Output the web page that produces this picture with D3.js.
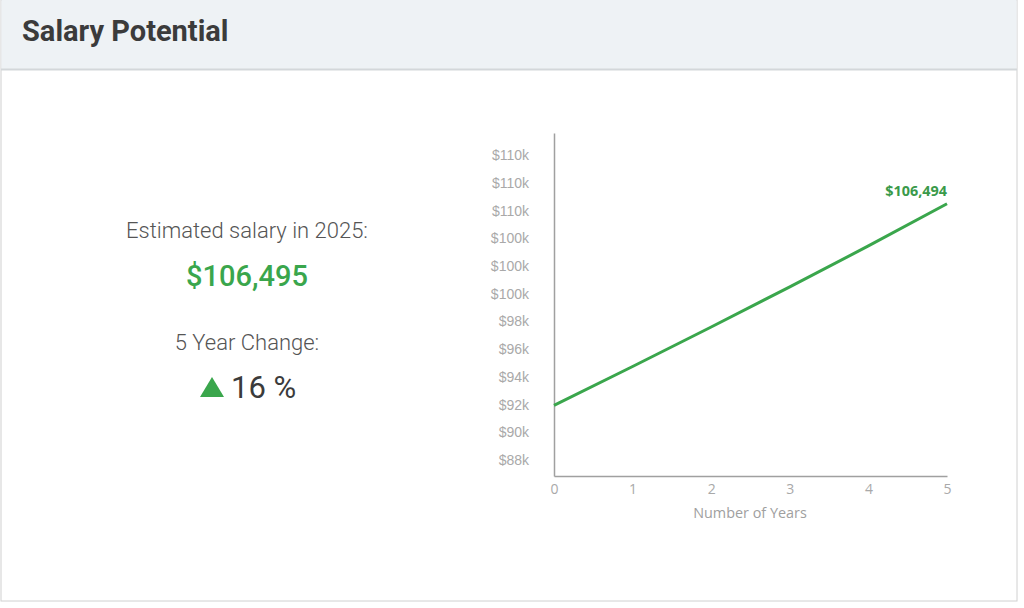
<!DOCTYPE html>
<html>
<head>
<meta charset="utf-8">
<script src="https://cdn.jsdelivr.net/npm/d3@7"></script>
<style>
	body { margin: 0; background: #fff; }
	svg { display: block; }
</style>
</head>
<body>
<svg id="chart" width="1024" height="608"></svg>
<script>
// values
var years = [0, 1, 2, 3, 4, 5];
var salary = [91950, 94750, 97600, 100500, 103450, 106494];
var yTicks = [88000, 90000, 92000, 94000, 96000, 98000, 100000, 102000, 104000, 106000, 108000, 110000];
var estimate = 106495;
var change = 16;

var svg = d3.select('#chart');

// card + header
svg.append('rect').attr('x', 1).attr('y', 0).attr('width', 1016).attr('height', 601)
	.attr('fill', '#fff').attr('stroke', '#d0d0d0');
svg.append('rect').attr('x', 1.5).attr('y', 0).attr('width', 1015).attr('height', 69).attr('fill', '#eef2f5');
svg.append('line').attr('x1', 1).attr('x2', 1017).attr('y1', 69.5).attr('y2', 69.5).attr('stroke', '#d3d7da').attr('stroke-width', 2);
svg.append('text').attr('x', 22).attr('y', 41).text('Salary Potential')
	.attr('font-family', 'Roboto').attr('font-weight', 700).attr('font-size', 29).attr('fill', '#3b3b3b');

// left summary
var cx = 247;
svg.append('text').attr('x', cx).attr('y', 238).attr('text-anchor', 'middle').text('Estimated salary in 2025:')
	.attr('font-family', 'Roboto').attr('font-weight', 300).attr('font-size', 22).attr('fill', '#555');
svg.append('text').attr('x', cx).attr('y', 286).attr('text-anchor', 'middle').text(d3.format('$,')(estimate))
	.attr('font-family', 'Roboto').attr('font-weight', 500).attr('font-size', 29).attr('fill', '#3aa64c');
svg.append('text').attr('x', cx).attr('y', 350).attr('text-anchor', 'middle').text('5 Year Change:')
	.attr('font-family', 'Roboto').attr('font-weight', 300).attr('font-size', 22).attr('fill', '#555');
svg.append('path').attr('d', 'M200,397 L212,377 L224,397 Z').attr('fill', '#3aa64c');
svg.append('text').attr('x', 231).attr('y', 398).text(change + ' %')
	.attr('font-family', 'Roboto').attr('font-weight', 400).attr('font-size', 31).attr('fill', '#3b3b3b');

// line chart
var x = d3.scaleLinear().domain([0, 5]).range([554, 947]);
var y = d3.scaleLinear().domain([86850, 111600]).range([476, 133]);

var yAxis = svg.append('g').attr('transform', 'translate(554,0)')
	.call(d3.axisLeft(y).tickValues(yTicks).tickFormat(d3.format('$.2s')).tickSize(0).tickPadding(25));
var xAxis = svg.append('g').attr('transform', 'translate(0,476)')
	.call(d3.axisBottom(x).tickValues(years).tickFormat(d3.format('d')).tickSize(0).tickPadding(8));

[yAxis, xAxis].forEach(function(g) {
	g.select('.domain').attr('stroke', '#a0a0a0').attr('stroke-width', 1.5);
	g.selectAll('text').attr('font-family', 'Liberation Sans').attr('font-size', 14).attr('fill', '#a9a9a9');
});
xAxis.selectAll('text').attr('font-family', 'Open Sans');

svg.append('text').attr('x', 750).attr('y', 518).attr('text-anchor', 'middle').text('Number of Years')
	.attr('font-family', 'Open Sans').attr('font-size', 14.4).attr('fill', '#a0a0a0');

var line = d3.line().x(function(d, i) { return x(years[i]); }).y(function(d) { return y(d); });
svg.append('path').datum(salary).attr('d', line)
	.attr('fill', 'none').attr('stroke', '#3aa64c').attr('stroke-width', 3);

svg.append('text').attr('x', x(5)).attr('y', y(salary[5]) - 8).attr('text-anchor', 'end')
	.text(d3.format('$,')(salary[5]))
	.attr('font-family', 'Open Sans').attr('font-weight', 700).attr('font-size', 14.4).attr('fill', '#3a9a4a');
</script>
</body>
</html>
